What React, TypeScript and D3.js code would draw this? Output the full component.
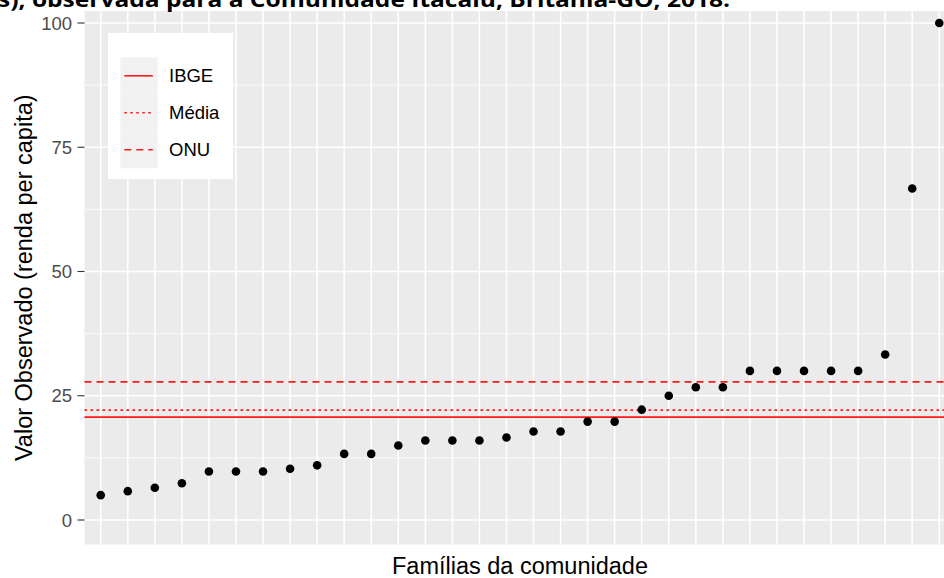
import React, { useEffect, useRef } from "react";
import * as d3 from "d3";

// renda per capita observada por família (ordenada)
const valores = [
  5, 5.8, 6.5, 7.4, 9.75, 9.75, 9.75, 10.3, 11, 13.3, 13.3, 15, 16, 16, 16,
  16.6, 17.8, 17.8, 19.8, 19.8, 22.2, 25, 26.7, 26.7, 30, 30, 30, 30, 30, 33.3,
  66.7, 100,
];
const familias = valores.map((_, i) => `F${i + 1}`);

const referencias = ["IBGE", "Média", "ONU"];
const referenciaValores = [20.7, 22.1, 27.8];
const referenciaTracos = ["none", "2.5 3.5", "7 5"];

const yTicks = [0, 25, 50, 75, 100];
const yMinor = [12.5, 37.5, 62.5, 87.5];

const titulo = "s), observada para a Comunidade Itacaiú, Britânia-GO, 2018.";
const xTitulo = "Famílias da comunidade";
const yTitulo = "Valor Observado (renda per capita)";

const App = () => {
  const svgRef = useRef<SVGSVGElement | null>(null);

  useEffect(() => {
    const width = 944;
    const height = 578;
    const panel = { left: 84.5, right: 955.5, top: 11, bottom: 544.5 };
    const font = "'Liberation Sans', Arial, sans-serif";

    d3.select(svgRef.current).selectAll("*").remove();
    const svg = d3
      .select(svgRef.current)
      .attr("width", width)
      .attr("height", height);

    const x = d3
      .scalePoint<string>()
      .domain(familias)
      .range([panel.left, panel.right])
      .padding(0.6);

    const y = d3.scaleLinear().domain([0, 100]).range([520, 23]);

    // Panel
    svg
      .append("rect")
      .attr("x", panel.left)
      .attr("y", panel.top)
      .attr("width", panel.right - panel.left)
      .attr("height", panel.bottom - panel.top)
      .attr("fill", "#EBEBEB");

    // Grid
    svg
      .selectAll(".minor")
      .data(yMinor)
      .enter()
      .append("line")
      .attr("x1", panel.left)
      .attr("x2", panel.right)
      .attr("y1", (d) => y(d))
      .attr("y2", (d) => y(d))
      .attr("stroke", "white")
      .attr("stroke-width", 0.8);

    svg
      .selectAll(".major")
      .data(yTicks)
      .enter()
      .append("line")
      .attr("x1", panel.left)
      .attr("x2", panel.right)
      .attr("y1", (d) => y(d))
      .attr("y2", (d) => y(d))
      .attr("stroke", "white")
      .attr("stroke-width", 1.5);

    svg
      .selectAll(".vgrid")
      .data(familias)
      .enter()
      .append("line")
      .attr("x1", (d) => x(d)!)
      .attr("x2", (d) => x(d)!)
      .attr("y1", panel.top)
      .attr("y2", panel.bottom)
      .attr("stroke", "white")
      .attr("stroke-width", 1.5);

    // Reference lines
    svg
      .selectAll(".ref")
      .data(referencias)
      .enter()
      .append("line")
      .attr("x1", panel.left)
      .attr("x2", panel.right)
      .attr("y1", (_, i) => y(referenciaValores[i]))
      .attr("y2", (_, i) => y(referenciaValores[i]))
      .attr("stroke", "#FF1A1A")
      .attr("stroke-width", 1.6)
      .attr("stroke-dasharray", (_, i) => referenciaTracos[i]);

    // Points
    svg
      .selectAll(".pt")
      .data(valores)
      .enter()
      .append("circle")
      .attr("cx", (_, i) => x(familias[i])!)
      .attr("cy", (d) => y(d))
      .attr("r", 4.3)
      .attr("fill", "black");

    // Y axis
    const yAxis = svg.append("g");
    yAxis
      .selectAll("line")
      .data(yTicks)
      .enter()
      .append("line")
      .attr("x1", 77.5)
      .attr("x2", panel.left)
      .attr("y1", (d) => y(d))
      .attr("y2", (d) => y(d))
      .attr("stroke", "#333333")
      .attr("stroke-width", 1.1);
    yAxis
      .selectAll("text")
      .data(yTicks)
      .enter()
      .append("text")
      .attr("x", 72)
      .attr("y", (d) => y(d))
      .attr("dy", "0.36em")
      .attr("text-anchor", "end")
      .attr("font-family", font)
      .attr("font-size", 18.5)
      .attr("fill", "#4D4D4D")
      .text((d) => d);

    // Axis titles
    svg
      .append("text")
      .attr("x", (panel.left + panel.right) / 2)
      .attr("y", 574)
      .attr("text-anchor", "middle")
      .attr("font-family", font)
      .attr("font-size", 23.5)
      .attr("fill", "black")
      .text(xTitulo);

    svg
      .append("text")
      .attr("transform", `translate(32,${(panel.top + panel.bottom) / 2}) rotate(-90)`)
      .attr("text-anchor", "middle")
      .attr("font-family", font)
      .attr("font-size", 23.5)
      .attr("fill", "black")
      .text(yTitulo);

    // Legend
    const legend = svg.append("g");
    legend
      .append("rect")
      .attr("x", 108)
      .attr("y", 33)
      .attr("width", 125)
      .attr("height", 146)
      .attr("fill", "white");
    const keyH = 37;
    const keys = legend
      .selectAll(".key")
      .data(referencias)
      .enter()
      .append("g")
      .attr("transform", (_, i) => `translate(120.3,${57.3 + i * keyH})`);
    keys
      .append("rect")
      .attr("width", 37.4)
      .attr("height", keyH)
      .attr("fill", "#F2F2F2");
    keys
      .append("line")
      .attr("x1", 4)
      .attr("x2", 32.5)
      .attr("y1", keyH / 2)
      .attr("y2", keyH / 2)
      .attr("stroke", "#FF1A1A")
      .attr("stroke-width", 1.6)
      .attr("stroke-dasharray", (_, i) => referenciaTracos[i]);
    keys
      .append("text")
      .attr("x", 48.7)
      .attr("y", keyH / 2)
      .attr("dy", "0.36em")
      .attr("font-family", font)
      .attr("font-size", 18.5)
      .attr("fill", "black")
      .text((d) => d);

    // Title (cropped at the top, as in the source)
    svg
      .append("text")
      .attr("x", -2)
      .attr("y", 7)
      .attr("font-family", "'Open Sans', 'Liberation Sans', sans-serif")
      .attr("font-weight", "bold")
      .attr("font-size", 22)
      .attr("textLength", 732)
      .attr("lengthAdjust", "spacingAndGlyphs")
      .attr("fill", "black")
      .text(titulo);
  }, []);

  return (
    <div style={{ position: "absolute", left: 0, top: 0, background: "white" }}>
      <svg ref={svgRef} style={{ display: "block" }}></svg>
    </div>
  );
};

export default App;
